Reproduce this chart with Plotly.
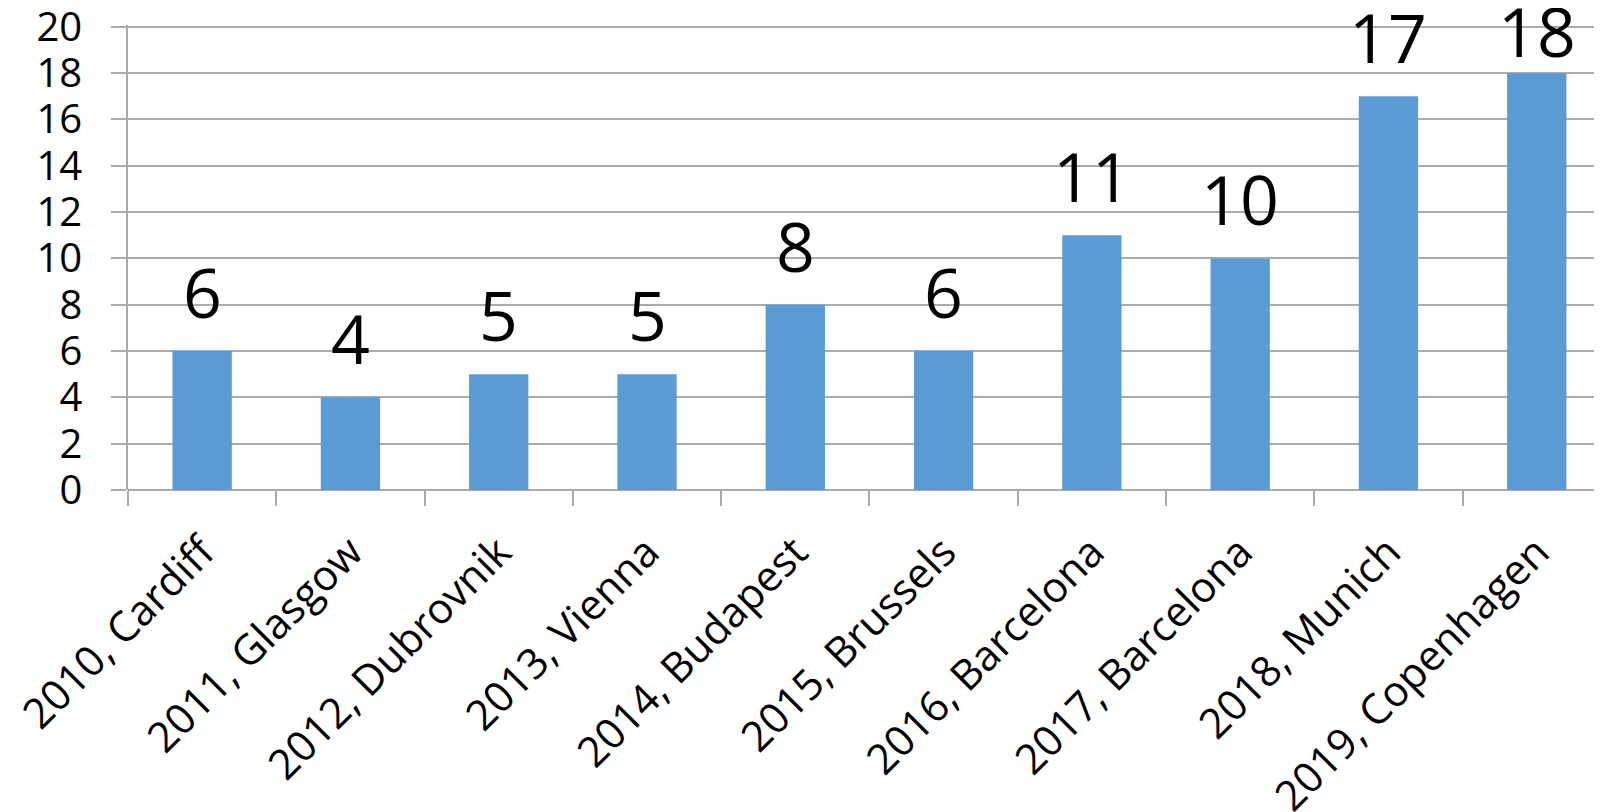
import plotly.graph_objects as go

categories = ["2010, Cardiff", "2011, Glasgow", "2012, Dubrovnik", "2013, Vienna",
              "2014, Budapest", "2015, Brussels", "2016, Barcelona", "2017, Barcelona",
              "2018, Munich", "2019, Copenhagen"]
values = [6, 4, 5, 5, 8, 6, 11, 10, 17, 18]
y_ticks = [0, 2, 4, 6, 8, 10, 12, 14, 16, 18, 20]

FONT = "Open Sans"
GRID = "#ABABAB"

FIG_W, FIG_H = 1594, 804
M_L, M_R, M_T, M_B = 120, 0, 17, 322
Y_MAX = 20.08
LABEL_SIZE = 68
LABEL_SHIFT = 11          # default lift of value labels (px)
LABEL_BLOCK = 80          # gap + glyph height above bar top (px)
LABEL_MIN_TOP = 2         # labels are kept inside the chart, as the original does

fig = go.Figure(go.Bar(
    x=categories,
    y=values,
    width=0.40,
    marker=dict(color="#5B9BD5", line=dict(width=0)),
    cliponaxis=False,
))

# value labels above each bar, placed through the data scales;
# a label that would leave the chart top is pushed down to stay inside
plot_h = FIG_H - M_T - M_B
for c, v in zip(categories, values):
    bar_top = M_T + (Y_MAX - v) / Y_MAX * plot_h
    overflow = max(0.0, LABEL_MIN_TOP - (bar_top - LABEL_BLOCK))
    fig.add_annotation(
        x=c, y=v, xref="x", yref="y", text=str(v),
        showarrow=False, yanchor="bottom", xanchor="center",
        yshift=LABEL_SHIFT - overflow,
        font=dict(family=FONT, size=LABEL_SIZE, color="#000000"),
    )

fig.update_layout(
    width=FIG_W, height=FIG_H,
    margin=dict(l=M_L, r=M_R, t=M_T, b=M_B, autoexpand=False),
    paper_bgcolor="white", plot_bgcolor="white",
    showlegend=False,
    font=dict(family=FONT, color="#000000"),
)

fig.update_xaxes(
    type="category",
    range=[-0.5, 9.44],
    tickangle=-45,
    tickfont=dict(family=FONT, size=42, color="#000000"),
    ticks="outside", ticklen=15, tickcolor=GRID, tickwidth=1.5,
    tickson="boundaries",
    ticklabelstandoff=28,
    showgrid=False, showline=False, zeroline=False,
    automargin=False,
)

fig.update_yaxes(
    range=[0, Y_MAX],
    tickmode="array", tickvals=y_ticks,
    tickfont=dict(family=FONT, size=40, color="#000000"),
    showgrid=True, gridcolor=GRID, gridwidth=1.5,
    zeroline=True, zerolinecolor=GRID, zerolinewidth=1.5,
    showline=True, linecolor=GRID, linewidth=1.5,
    ticks="outside", ticklen=15, tickcolor=GRID, tickwidth=1.5,
    ticklabelstandoff=21,
    ticklabeloverflow="allow",
    automargin=False,
)

fig.write_html("out.html")
